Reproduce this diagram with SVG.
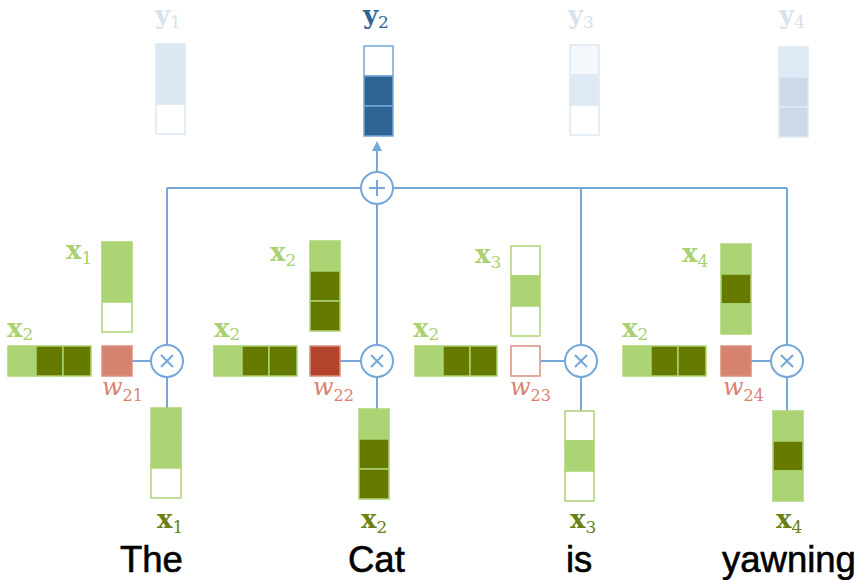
<svg xmlns="http://www.w3.org/2000/svg" width="863" height="580" viewBox="0 0 863 580">
  <style>
    .lg { fill: #add474; stroke: #add474; stroke-width: 1.5; }
    .dg { fill: #667a00; stroke: #add474; stroke-width: 1.5; }
    .wh { fill: #ffffff; stroke: #add474; stroke-width: 1.5; }
    .wire { fill: none; stroke: #75a7d8; stroke-width: 2; }
    .op { fill: #ffffff; stroke: #75a7d8; stroke-width: 2; }
    .vx { font-family: "DejaVu Serif", "Liberation Serif", serif; font-weight: bold; font-size: 26px; }
    .vy { font-family: "DejaVu Serif", "Liberation Serif", serif; font-weight: bold; font-size: 26px; }
    .sub { font-weight: normal; font-size: 17px; }
    .wl { font-family: "DejaVu Serif", "Liberation Serif", serif; font-style: italic; font-size: 24px; fill: #d9826f; }
    .wsub { font-style: normal; font-size: 16px; }
    .lgt { fill: #a9d16f; }
    .dkt { fill: #6b7f12; }
    .word { font-family: "Liberation Sans", Arial, sans-serif; font-size: 36.5px; fill: #000000; stroke: #000000; stroke-width: 0.6; }
  </style>
  <defs>
    <marker id="arrow" markerWidth="10" markerHeight="10" refX="5" refY="5" orient="auto" markerUnits="userSpaceOnUse">
      <path d="M0,0 L10,5 L0,10 z" fill="#75a7d8"/>
    </marker>
  </defs>

  <!-- connectors -->
  <g id="connectors">
    <line class="wire" x1="167" y1="188" x2="787" y2="188"/>
    <line class="wire" x1="167" y1="188" x2="167" y2="345"/>
    <line class="wire" x1="377" y1="204" x2="377" y2="345"/>
    <line class="wire" x1="581" y1="188" x2="581" y2="345"/>
    <line class="wire" x1="787" y1="188" x2="787" y2="345"/>
    <line class="wire" x1="377" y1="172" x2="377" y2="146" marker-end="url(#arrow)"/>
    <!-- weight to product -->
    <line class="wire" x1="132" y1="361" x2="151" y2="361"/>
    <line class="wire" x1="340" y1="361" x2="361" y2="361"/>
    <line class="wire" x1="541" y1="361" x2="565" y2="361"/>
    <line class="wire" x1="751" y1="361" x2="771" y2="361"/>
    <!-- product to value vectors -->
    <line class="wire" x1="167" y1="377" x2="167" y2="408"/>
    <line class="wire" x1="377" y1="377" x2="377" y2="409"/>
    <line class="wire" x1="581" y1="377" x2="581" y2="411"/>
    <line class="wire" x1="787" y1="377" x2="787" y2="411"/>
  </g>

  <!-- outputs -->
  <g id="y1">
    <rect x="156" y="44" width="29" height="30" fill="#dce8f4" stroke="#dce8f4" stroke-width="1.5"/>
    <rect x="156" y="74" width="29" height="30" fill="#dce8f4" stroke="#dce8f4" stroke-width="1.5"/>
    <rect x="156" y="104" width="29" height="30" fill="#ffffff" stroke="#dce8f4" stroke-width="1.5"/>
    <text class="vy" x="155" y="24" fill="#d6e2ee">y<tspan class="sub" dy="4">1</tspan></text>
  </g>
  <g id="y2">
    <rect x="364" y="46" width="29" height="30" fill="#ffffff" stroke="#75a7d8" stroke-width="1.5"/>
    <rect x="364" y="76" width="29" height="30" fill="#2e6595" stroke="#75a7d8" stroke-width="1.5"/>
    <rect x="364" y="106" width="29" height="30" fill="#2e6595" stroke="#75a7d8" stroke-width="1.5"/>
    <text class="vy" x="363" y="24" fill="#2e6595">y<tspan class="sub" dy="4">2</tspan></text>
  </g>
  <g id="y3">
    <rect x="570" y="45" width="29" height="30" fill="#f4f8fc" stroke="#dde9f4" stroke-width="1.5"/>
    <rect x="570" y="75" width="29" height="30" fill="#dde9f4" stroke="#dde9f4" stroke-width="1.5"/>
    <rect x="570" y="105" width="29" height="30" fill="#ffffff" stroke="#dde9f4" stroke-width="1.5"/>
    <text class="vy" x="568" y="24" fill="#d6e2ee">y<tspan class="sub" dy="4">3</tspan></text>
  </g>
  <g id="y4">
    <rect x="779" y="47" width="29" height="30" fill="#dde9f4" stroke="#dde9f4" stroke-width="1.5"/>
    <rect x="779" y="77" width="29" height="30" fill="#ccdae7" stroke="#dde9f4" stroke-width="1.5"/>
    <rect x="779" y="107" width="29" height="30" fill="#ccdae7" stroke="#dde9f4" stroke-width="1.5"/>
    <text class="vy" x="779" y="24" fill="#d6e2ee">y<tspan class="sub" dy="4">4</tspan></text>
  </g>

  <!-- sum -->
  <g id="sum">
    <circle class="op" cx="377" cy="188" r="16"/>
    <line class="wire" x1="369" y1="188" x2="385" y2="188"/>
    <line class="wire" x1="377" y1="180" x2="377" y2="196"/>
  </g>

  <!-- products -->
  <g id="mul1">
    <circle class="op" cx="167" cy="361" r="16"/>
    <path class="wire" d="M161,355 L173,367 M173,355 L161,367"/>
  </g>
  <g id="mul2">
    <circle class="op" cx="377" cy="361" r="16"/>
    <path class="wire" d="M371,355 L383,367 M383,355 L371,367"/>
  </g>
  <g id="mul3">
    <circle class="op" cx="581" cy="361" r="16"/>
    <path class="wire" d="M575,355 L587,367 M587,355 L575,367"/>
  </g>
  <g id="mul4">
    <circle class="op" cx="787" cy="361" r="16"/>
    <path class="wire" d="M781,355 L793,367 M793,355 L781,367"/>
  </g>

  <!-- keys -->
  <g id="key1">
    <rect class="lg" x="102" y="242" width="30" height="30"/>
    <rect class="lg" x="102" y="272" width="30" height="30"/>
    <rect class="wh" x="102" y="302" width="30" height="30"/>
    <text class="vx lgt" x="66" y="259">x<tspan class="sub" dy="5">1</tspan></text>
  </g>
  <g id="key2">
    <rect class="lg" x="310" y="241" width="30" height="30"/>
    <rect class="dg" x="310" y="271" width="30" height="30"/>
    <rect class="dg" x="310" y="301" width="30" height="30"/>
    <text class="vx lgt" x="270" y="261">x<tspan class="sub" dy="5">2</tspan></text>
  </g>
  <g id="key3">
    <rect class="wh" x="511" y="246" width="29" height="30"/>
    <rect class="lg" x="511" y="276" width="29" height="30"/>
    <rect class="wh" x="511" y="306" width="29" height="30"/>
    <text class="vx lgt" x="475" y="263">x<tspan class="sub" dy="5">3</tspan></text>
  </g>
  <g id="key4">
    <rect class="lg" x="721" y="244" width="30" height="30"/>
    <rect class="dg" x="721" y="274" width="30" height="30"/>
    <rect class="lg" x="721" y="304" width="30" height="30"/>
    <text class="vx lgt" x="682" y="262">x<tspan class="sub" dy="5">4</tspan></text>
  </g>

  <!-- queries -->
  <g id="query1">
    <rect class="lg" x="8" y="346" width="28" height="30"/>
    <rect class="dg" x="36" y="346" width="27" height="30"/>
    <rect class="dg" x="63" y="346" width="28" height="30"/>
    <text class="vx lgt" x="7" y="337">x<tspan class="sub" dy="3">2</tspan></text>
  </g>
  <g id="query2">
    <rect class="lg" x="214" y="346" width="28" height="30"/>
    <rect class="dg" x="242" y="346" width="27" height="30"/>
    <rect class="dg" x="269" y="346" width="28" height="30"/>
    <text class="vx lgt" x="214" y="337">x<tspan class="sub" dy="3">2</tspan></text>
  </g>
  <g id="query3">
    <rect class="lg" x="415" y="346" width="28" height="30"/>
    <rect class="dg" x="443" y="346" width="27" height="30"/>
    <rect class="dg" x="470" y="346" width="27" height="30"/>
    <text class="vx lgt" x="413" y="337">x<tspan class="sub" dy="3">2</tspan></text>
  </g>
  <g id="query4">
    <rect class="lg" x="623" y="346" width="28" height="30"/>
    <rect class="dg" x="651" y="346" width="27" height="30"/>
    <rect class="dg" x="678" y="346" width="28" height="30"/>
    <text class="vx lgt" x="622" y="337">x<tspan class="sub" dy="3">2</tspan></text>
  </g>

  <!-- weights -->
  <g id="w21">
    <rect x="102" y="346" width="30" height="30" fill="#d5826f" stroke="#d98f7e" stroke-width="1.5"/>
    <text class="wl" x="102" y="395">w<tspan class="wsub" dy="6">21</tspan></text>
  </g>
  <g id="w22">
    <rect x="310" y="346" width="30" height="30" fill="#b3432a" stroke="#d98f7e" stroke-width="1.5"/>
    <text class="wl" x="313" y="395">w<tspan class="wsub" dy="6">22</tspan></text>
  </g>
  <g id="w23">
    <rect x="511" y="346" width="29" height="30" fill="#ffffff" stroke="#d98f7e" stroke-width="1.5"/>
    <text class="wl" x="510" y="395">w<tspan class="wsub" dy="6">23</tspan></text>
  </g>
  <g id="w24">
    <rect x="721" y="346" width="30" height="30" fill="#d5826f" stroke="#d98f7e" stroke-width="1.5"/>
    <text class="wl" x="723" y="395">w<tspan class="wsub" dy="6">24</tspan></text>
  </g>

  <!-- values -->
  <g id="value1">
    <rect class="lg" x="151" y="408" width="30" height="30"/>
    <rect class="lg" x="151" y="438" width="30" height="30"/>
    <rect class="wh" x="151" y="468" width="30" height="30"/>
    <text class="vx dkt" x="157" y="528">x<tspan class="sub" dy="5">1</tspan></text>
  </g>
  <g id="value2">
    <rect class="lg" x="359" y="409" width="30" height="30"/>
    <rect class="dg" x="359" y="439" width="30" height="30"/>
    <rect class="dg" x="359" y="469" width="30" height="30"/>
    <text class="vx dkt" x="361" y="528">x<tspan class="sub" dy="5">2</tspan></text>
  </g>
  <g id="value3">
    <rect class="wh" x="565" y="411" width="29" height="30"/>
    <rect class="lg" x="565" y="441" width="29" height="30"/>
    <rect class="wh" x="565" y="471" width="29" height="30"/>
    <text class="vx dkt" x="570" y="528">x<tspan class="sub" dy="5">3</tspan></text>
  </g>
  <g id="value4">
    <rect class="lg" x="773" y="411" width="30" height="30"/>
    <rect class="dg" x="773" y="441" width="30" height="30"/>
    <rect class="lg" x="773" y="471" width="30" height="30"/>
    <text class="vx dkt" x="776" y="528">x<tspan class="sub" dy="5">4</tspan></text>
  </g>

  <!-- words -->
  <g id="words">
    <text class="word" x="120" y="572">The</text>
    <text class="word" x="348" y="572">Cat</text>
    <text class="word" x="566" y="572">is</text>
    <text class="word" x="722" y="572">yawning</text>
  </g>
</svg>
